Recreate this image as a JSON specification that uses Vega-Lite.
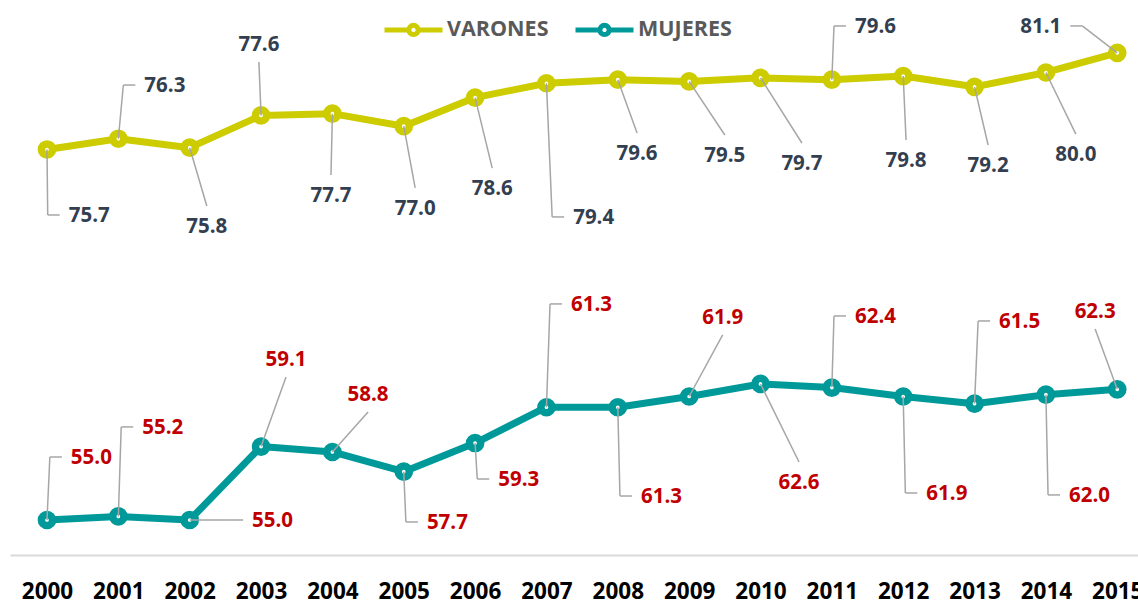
{
  "$schema": "https://vega.github.io/schema/vega-lite/v6.json",
  "autosize": {"type": "none"},
  "padding": {"left": 10, "top": 0, "right": 0, "bottom": 50},
  "width": 1128,
  "height": 555,
  "background": "white",
  "config": {"view": {"stroke": null}, "font": "Open Sans"},
  "data": {"values": [
    {"year": 2000, "serie": "VARONES", "value": 75.7, "lx": 2000.01, "ly": 72.04, "pos": "right"},
    {"year": 2001, "serie": "VARONES", "value": 76.3, "lx": 2001.07, "ly": 79.30, "pos": "right"},
    {"year": 2002, "serie": "VARONES", "value": 75.8, "lx": 2002.24, "ly": 72.54, "pos": "below"},
    {"year": 2003, "serie": "VARONES", "value": 77.6, "lx": 2002.97, "ly": 80.59, "pos": "above"},
    {"year": 2004, "serie": "VARONES", "value": 77.7, "lx": 2003.98, "ly": 74.27, "pos": "below"},
    {"year": 2005, "serie": "VARONES", "value": 77.0, "lx": 2005.16, "ly": 73.55, "pos": "below"},
    {"year": 2006, "serie": "VARONES", "value": 78.6, "lx": 2006.24, "ly": 74.66, "pos": "below"},
    {"year": 2007, "serie": "VARONES", "value": 79.4, "lx": 2007.08, "ly": 71.93, "pos": "right"},
    {"year": 2008, "serie": "VARONES", "value": 79.6, "lx": 2008.27, "ly": 76.62, "pos": "below"},
    {"year": 2009, "serie": "VARONES", "value": 79.5, "lx": 2009.50, "ly": 76.51, "pos": "below"},
    {"year": 2010, "serie": "VARONES", "value": 79.7, "lx": 2010.58, "ly": 76.06, "pos": "below"},
    {"year": 2011, "serie": "VARONES", "value": 79.6, "lx": 2011.03, "ly": 82.60, "pos": "right"},
    {"year": 2012, "serie": "VARONES", "value": 79.8, "lx": 2012.04, "ly": 76.23, "pos": "below"},
    {"year": 2013, "serie": "VARONES", "value": 79.2, "lx": 2013.19, "ly": 75.95, "pos": "below"},
    {"year": 2014, "serie": "VARONES", "value": 80.0, "lx": 2014.42, "ly": 76.56, "pos": "below"},
    {"year": 2015, "serie": "VARONES", "value": 81.1, "lx": 2014.51, "ly": 82.60, "pos": "left"},
    {"year": 2000, "serie": "MUJERES", "value": 55.0, "lx": 2000.04, "ly": 58.52, "pos": "right"},
    {"year": 2001, "serie": "MUJERES", "value": 55.2, "lx": 2001.04, "ly": 60.20, "pos": "right"},
    {"year": 2002, "serie": "MUJERES", "value": 55.0, "lx": 2002.58, "ly": 55.00, "pos": "right"},
    {"year": 2003, "serie": "MUJERES", "value": 59.1, "lx": 2003.35, "ly": 62.99, "pos": "above"},
    {"year": 2004, "serie": "MUJERES", "value": 58.8, "lx": 2004.50, "ly": 61.03, "pos": "above"},
    {"year": 2005, "serie": "MUJERES", "value": 57.7, "lx": 2005.03, "ly": 54.89, "pos": "right"},
    {"year": 2006, "serie": "MUJERES", "value": 59.3, "lx": 2006.03, "ly": 57.29, "pos": "right"},
    {"year": 2007, "serie": "MUJERES", "value": 61.3, "lx": 2007.05, "ly": 67.07, "pos": "right"},
    {"year": 2008, "serie": "MUJERES", "value": 61.3, "lx": 2008.03, "ly": 56.34, "pos": "right"},
    {"year": 2009, "serie": "MUJERES", "value": 61.9, "lx": 2009.47, "ly": 65.34, "pos": "above"},
    {"year": 2010, "serie": "MUJERES", "value": 62.6, "lx": 2010.54, "ly": 58.24, "pos": "below"},
    {"year": 2011, "serie": "MUJERES", "value": 62.4, "lx": 2011.03, "ly": 66.40, "pos": "right"},
    {"year": 2012, "serie": "MUJERES", "value": 61.9, "lx": 2012.03, "ly": 56.51, "pos": "right"},
    {"year": 2013, "serie": "MUJERES", "value": 61.5, "lx": 2013.05, "ly": 66.12, "pos": "right"},
    {"year": 2014, "serie": "MUJERES", "value": 62.0, "lx": 2014.03, "ly": 56.40, "pos": "right"},
    {"year": 2015, "serie": "MUJERES", "value": 62.3, "lx": 2014.69, "ly": 65.67, "pos": "above"}
  ]},
  "encoding": {
    "x": {
      "field": "year", "type": "quantitative",
      "scale": {"domain": [1999.4814, 2015.2908], "nice": false, "zero": false},
      "axis": {
        "values": [2000, 2001, 2002, 2003, 2004, 2005, 2006, 2007, 2008, 2009, 2010, 2011, 2012, 2013, 2014, 2015],
        "format": "d", "title": null, "grid": false, "ticks": false,
        "domainColor": "#D9D9D9", "domainWidth": 2,
        "labelFont": "Open Sans", "labelFontWeight": "bold", "labelFontSize": 22.5,
        "labelColor": "#000000", "labelPadding": 25.5, "labelFlush": false, "labelOverlap": false, "labelBound": false
      }
    },
    "y": {
      "field": "value", "type": "quantitative",
      "scale": {"domain": [53.045, 84.05], "nice": false, "zero": false},
      "axis": null
    }
  },
  "layer": [
    {
      "mark": {"type": "line", "strokeWidth": 7, "strokeJoin": "round"},
      "encoding": {
        "color": {
          "field": "serie", "type": "nominal",
          "scale": {"domain": ["VARONES", "MUJERES"], "range": ["#CCCC00", "#009999"]},
          "legend": {
            "orient": "none", "legendX": 372, "legendY": -2, "direction": "horizontal", "title": null,
            "symbolType": "M-1,0H-0.16M0.16,0H1M-0.16,0A0.16,0.16 0 1,1 0.16,0A0.16,0.16 0 1,1 -0.16,0Z",
            "symbolSize": 3364, "symbolStrokeWidth": 5, "symbolFillColor": "white", "symbolOpacity": 1,
            "labelFont": "Open Sans", "labelFontWeight": "bold", "labelFontSize": 21.5, "labelColor": "#595959",
            "labelOffset": 2, "columnPadding": 16, "padding": 0,
            "encode": {"symbols": {"update": {"fill": {"value": "white"}, "strokeWidth": {"value": 5}}}}
          }
        }
      }
    },
    {
      "mark": {"type": "point", "filled": false, "fill": "white", "strokeWidth": 7.5, "size": 125, "opacity": 1},
      "encoding": {
        "color": {"field": "serie", "type": "nominal"}
      }
    },
    {
      "mark": {"type": "rule", "color": "#A6A6A6", "strokeWidth": 1.5},
      "encoding": {
        "x2": {"field": "lx"},
        "y2": {"field": "ly"}
      }
    },
    {
      "transform": [{"filter": "datum.pos === 'right'"}],
      "mark": {"type": "rule", "color": "#A6A6A6", "strokeWidth": 1.5, "x2Offset": 12},
      "encoding": {
        "x": {"field": "lx", "type": "quantitative"},
        "x2": {"field": "lx"},
        "y": {"field": "ly", "type": "quantitative"}
      }
    },
    {
      "transform": [{"filter": "datum.pos === 'left'"}],
      "mark": {"type": "rule", "color": "#A6A6A6", "strokeWidth": 1.5, "x2Offset": -12},
      "encoding": {
        "x": {"field": "lx", "type": "quantitative"},
        "x2": {"field": "lx"},
        "y": {"field": "ly", "type": "quantitative"}
      }
    },
    {
      "transform": [{"filter": "datum.pos === 'right'"}],
      "mark": {"type": "text", "align": "left", "baseline": "middle", "dx": 21, "dy": 1, "font": "Open Sans", "fontWeight": "bold", "fontSize": 20.5},
      "encoding": {
        "x": {"field": "lx", "type": "quantitative"},
        "y": {"field": "ly", "type": "quantitative"},
        "text": {"field": "value", "type": "quantitative", "format": ".1f"},
        "color": {"condition": {"test": "datum.serie === 'VARONES'", "value": "#333F50"}, "value": "#C00000"}
      }
    },
    {
      "transform": [{"filter": "datum.pos === 'left'"}],
      "mark": {"type": "text", "align": "right", "baseline": "middle", "dx": -21, "dy": 1, "font": "Open Sans", "fontWeight": "bold", "fontSize": 20.5},
      "encoding": {
        "x": {"field": "lx", "type": "quantitative"},
        "y": {"field": "ly", "type": "quantitative"},
        "text": {"field": "value", "type": "quantitative", "format": ".1f"},
        "color": {"condition": {"test": "datum.serie === 'VARONES'", "value": "#333F50"}, "value": "#C00000"}
      }
    },
    {
      "transform": [{"filter": "datum.pos === 'above'"}],
      "mark": {"type": "text", "align": "center", "baseline": "alphabetic", "dy": -11, "font": "Open Sans", "fontWeight": "bold", "fontSize": 20.5},
      "encoding": {
        "x": {"field": "lx", "type": "quantitative"},
        "y": {"field": "ly", "type": "quantitative"},
        "text": {"field": "value", "type": "quantitative", "format": ".1f"},
        "color": {"condition": {"test": "datum.serie === 'VARONES'", "value": "#333F50"}, "value": "#C00000"}
      }
    },
    {
      "transform": [{"filter": "datum.pos === 'below'"}],
      "mark": {"type": "text", "align": "center", "baseline": "top", "dy": 11, "font": "Open Sans", "fontWeight": "bold", "fontSize": 20.5},
      "encoding": {
        "x": {"field": "lx", "type": "quantitative"},
        "y": {"field": "ly", "type": "quantitative"},
        "text": {"field": "value", "type": "quantitative", "format": ".1f"},
        "color": {"condition": {"test": "datum.serie === 'VARONES'", "value": "#333F50"}, "value": "#C00000"}
      }
    }
  ]
}
